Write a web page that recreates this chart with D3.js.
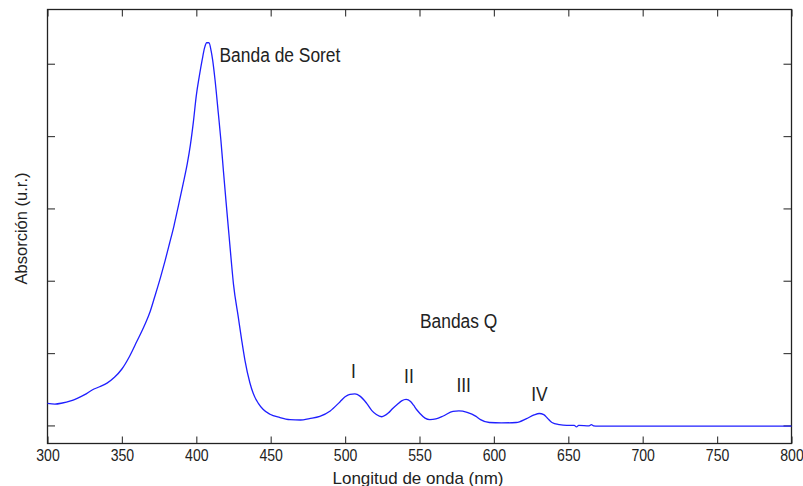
<!DOCTYPE html>
<html>
<head>
<meta charset="utf-8">
<script src="https://cdn.jsdelivr.net/npm/d3@7"></script>
<style>
  html, body { margin: 0; padding: 0; background: #fff; }
  svg { display: block; }
  text { font-family: "Liberation Sans", Arial, sans-serif; fill: #222; }
</style>
</head>
<body>
<svg id="chart" width="803" height="486"></svg>
<script>
// UV-Vis absorption spectrum (relative units) against wavelength in nm
const wavelengths = [
  300, 305, 310, 315, 320, 325, 330, 335, 340, 345, 350, 355, 360, 365, 369, 372, 376, 379,
  382, 385, 388, 391, 394, 396, 398, 400, 402, 404, 405.5, 407, 408.5, 410, 411, 412.6,
  414.8, 416.5, 418.2, 420, 422, 423.5, 425, 428.2, 430.5, 432.7, 436, 438.3, 441.7, 445,
  449.5, 456, 463, 470, 476, 483, 490, 496.5, 500, 503.3, 506.6, 510, 514.5, 518, 521,
  524.6, 529, 532, 535, 538, 541, 544, 546, 548, 550.3, 553.7, 557, 561, 566, 572.5,
  576.5, 582, 588, 591, 597, 605, 615, 622, 627, 630.5, 633.5, 636, 639, 644, 649, 654,
  655.5, 657, 664, 665.5, 667, 670, 700, 750, 800
];
const absorbance = [
  0.061, 0.059, 0.062, 0.067, 0.075, 0.085, 0.098, 0.107, 0.117, 0.133, 0.156, 0.190, 0.232,
  0.275, 0.315, 0.355, 0.410, 0.455, 0.503, 0.552, 0.608, 0.665, 0.725, 0.775, 0.838, 0.912,
  0.965, 1.012, 1.043, 1.058, 1.058, 1.035, 1.010, 0.955, 0.863, 0.790, 0.705, 0.618, 0.525,
  0.455, 0.390, 0.300, 0.236, 0.180, 0.118, 0.088, 0.061, 0.044, 0.031, 0.022, 0.016, 0.015,
  0.019, 0.025, 0.040, 0.065, 0.079, 0.086, 0.087, 0.081, 0.061, 0.041, 0.030, 0.024, 0.034,
  0.047, 0.058, 0.068, 0.072, 0.066, 0.056, 0.044, 0.033, 0.020, 0.016, 0.018, 0.026, 0.039,
  0.040, 0.036, 0.025, 0.016, 0.008, 0.007, 0.008, 0.019, 0.029, 0.033, 0.030, 0.020, 0.008,
  0.002, 0.000, 0.000, -0.004, 0.000, -0.001, 0.002, -0.001, -0.002, -0.002, -0.002, -0.002
];

const xTicks = [300, 350, 400, 450, 500, 550, 600, 650, 700, 750, 800];
const yTicks = [0, 0.2, 0.4, 0.6, 0.8, 1.0];
const xTitle = "Longitud de onda (nm)";
const yTitle = "Absorción (u.r.)";

// band annotations, anchored in data coordinates
const annotations = [
  { text: "Banda de Soret", nm: 415.6, a: 1.004, anchor: "start" },
  { text: "Bandas Q", nm: 576.3, a: 0.268, anchor: "middle" },
  { text: "I",   nm: 505.6, a: 0.130, anchor: "middle" },
  { text: "II",  nm: 542.9, a: 0.118, anchor: "middle" },
  { text: "III", nm: 579.7, a: 0.093, anchor: "middle" },
  { text: "IV",  nm: 630.6, a: 0.068, anchor: "middle" }
];

const svg = d3.select("#chart");
const plotLeft = 47.5, plotRight = 791.5, plotTop = 9.5, plotBottom = 443.5;

const x = d3.scaleLinear().domain([300, 800]).range([plotLeft, plotRight]);
const y = d3.scaleLinear().domain([-0.05, 1.15]).range([plotBottom, plotTop]);

const tickColor = "#444";

// bottom axis with labels, ticks pointing inward
const gx = svg.append("g")
  .attr("transform", `translate(0,${plotBottom})`)
  .call(d3.axisBottom(x).tickValues(xTicks).tickFormat(d3.format("d"))
    .tickSizeInner(-7).tickSizeOuter(0).tickPadding(6.6));
gx.selectAll("text")
  .attr("font-size", 16)
  .attr("fill", "#222")
  .attr("transform", "scale(0.88,1)");

// top axis, ticks only
const gxTop = svg.append("g")
  .attr("transform", `translate(0,${plotTop})`)
  .call(d3.axisTop(x).tickValues(xTicks).tickFormat("").tickSizeInner(-7).tickSizeOuter(0));

// left and right axes, ticks only
const gyL = svg.append("g")
  .attr("transform", `translate(${plotLeft},0)`)
  .call(d3.axisLeft(y).tickValues(yTicks).tickFormat("").tickSizeInner(-7.5).tickSizeOuter(0));
const gyR = svg.append("g")
  .attr("transform", `translate(${plotRight},0)`)
  .call(d3.axisRight(y).tickValues(yTicks).tickFormat("").tickSizeInner(-8).tickSizeOuter(0));

[gx, gxTop, gyL, gyR].forEach(g => {
  g.select(".domain").remove();
  g.selectAll(".tick line").attr("stroke", tickColor).attr("stroke-width", 1.2);
});

// frame
svg.append("rect")
  .attr("x", plotLeft).attr("y", plotTop)
  .attr("width", plotRight - plotLeft).attr("height", plotBottom - plotTop)
  .attr("fill", "none").attr("stroke", "#222").attr("stroke-width", 1.3);

// spectrum line
const spectrum = wavelengths.map((w, i) => [w, absorbance[i]]);
svg.append("path")
  .datum(spectrum)
  .attr("fill", "none")
  .attr("stroke", "#1f1fff")
  .attr("stroke-width", 1.3)
  .attr("stroke-linejoin", "round")
  .attr("d", d3.line().x(d => x(d[0])).y(d => y(d[1])).curve(d3.curveMonotoneX));

// axis titles
svg.append("text")
  .attr("x", 418).attr("y", 483.5)
  .attr("text-anchor", "middle")
  .attr("font-size", 17)
  .text(xTitle);

svg.append("text")
  .attr("transform", "translate(26.5,228.5) rotate(-90)")
  .attr("text-anchor", "middle")
  .attr("font-size", 17)
  .attr("textLength", 112)
  .attr("lengthAdjust", "spacingAndGlyphs")
  .text(yTitle);

// band labels
annotations.forEach(d => {
  svg.append("text")
    .attr("transform", `translate(${x(d.nm)},${y(d.a)}) scale(0.87,1)`)
    .attr("text-anchor", d.anchor)
    .attr("font-size", 20)
    .text(d.text);
});
</script>
</body>
</html>
